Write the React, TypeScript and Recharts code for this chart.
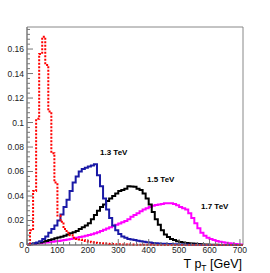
import React from 'react';
import { ComposedChart, Line, XAxis, YAxis, ReferenceArea } from 'recharts';

// bin lower edges in GeV, 10 GeV bins from 0 to 700 (histogram ends at 710)
const binEdges = Array.from({ length: 71 }, (_, i) => i * 10);
const xMax = 710;
const yMax = 0.178;

// low mass sample (red dotted)
const redHist = [
  0, 0.012, 0.044, 0.103, 0.156, 0.17, 0.147, 0.109, 0.075, 0.051,
  0.024, 0.019, 0.013, 0.01, 0.008, 0.006, 0.005, 0.0045, 0.004, 0.0033,
  0.0027, 0.0022, 0.0019, 0.0016, 0.0014, 0.0012, 0.001, 0.0009, 0.0008, 0.0007,
  0.0006, 0.0005, 0.0005, 0.0004, 0.0004, 0.0003, 0.0003, 0.0003, 0.0002, 0.0002,
  0.0002, 0.0001, 0.0001, 0.0001, 0.0001, 0.0001, 0, 0, 0, 0,
  0, 0, 0, 0, 0, 0, 0, 0, 0, 0,
  0, 0, 0, 0, 0, 0, 0, 0, 0, 0,
  0,
];

// 1.3 TeV
const blueHist = [
  0.0005, 0.001, 0.0015, 0.002, 0.003, 0.005, 0.007, 0.01, 0.013, 0.016,
  0.02, 0.025, 0.031, 0.037, 0.044, 0.051, 0.056, 0.06, 0.062, 0.063,
  0.064, 0.065, 0.066, 0.057, 0.048, 0.038, 0.029, 0.022, 0.016, 0.012,
  0.009, 0.007, 0.006, 0.005, 0.0045, 0.004, 0.0035, 0.003, 0.0027, 0.0023,
  0.002, 0.0017, 0.0015, 0.0013, 0.0011, 0.001, 0.0009, 0.0008, 0.0007, 0.0006,
  0.0005, 0.0004, 0.0004, 0.0003, 0.0003, 0.0002, 0.0002, 0.0001, 0.0001, 0.0001,
  0.0001, 0.0001, 0, 0, 0, 0, 0, 0, 0, 0,
  0,
];

// 1.5 TeV
const blackHist = [
  0.0003, 0.0008, 0.0012, 0.0016, 0.002, 0.0027, 0.0033, 0.004, 0.0047, 0.0055,
  0.0062, 0.0068, 0.0076, 0.0085, 0.0095, 0.0105, 0.0115, 0.013, 0.0145, 0.016,
  0.0177, 0.021, 0.0245, 0.028, 0.031, 0.033, 0.036, 0.038, 0.04, 0.042,
  0.044, 0.045, 0.046, 0.048, 0.0478, 0.0475, 0.046, 0.045, 0.042, 0.038,
  0.033, 0.027, 0.021, 0.0165, 0.012, 0.0085, 0.0065, 0.005, 0.004, 0.003,
  0.0025, 0.002, 0.0017, 0.0015, 0.0012, 0.001, 0.0008, 0.0006, 0.0005, 0.0004,
  0.0003, 0.0002, 0.0002, 0.0001, 0.0001, 0.0001, 0, 0, 0, 0,
  0,
];

// 1.7 TeV
const magentaHist = [
  0.0003, 0.0006, 0.0009, 0.0012, 0.0015, 0.0018, 0.002, 0.0023, 0.0026, 0.003,
  0.0033, 0.0037, 0.0041, 0.0045, 0.005, 0.0055, 0.006, 0.0065, 0.007, 0.0076,
  0.0082, 0.0088, 0.0095, 0.0105, 0.0115, 0.0125, 0.0135, 0.0145, 0.0155, 0.0165,
  0.0175, 0.0185, 0.0195, 0.021, 0.023, 0.0245, 0.026, 0.0275, 0.029, 0.03,
  0.031, 0.032, 0.0327, 0.033, 0.0335, 0.034, 0.034, 0.034, 0.0335, 0.0325,
  0.031, 0.03, 0.029, 0.026, 0.022, 0.0177, 0.0136, 0.01, 0.0075, 0.006,
  0.0048, 0.004, 0.0033, 0.0027, 0.0022, 0.0018, 0.0015, 0.0012, 0.0009, 0.0006,
  0.0004,
];

const xMajorTicks = [0, 100, 200, 300, 400, 500, 600, 700];
const yMajorTicks = [0, 0.02, 0.04, 0.06, 0.08, 0.1, 0.12, 0.14, 0.16];

const xTicks = Array.from({ length: 36 }, (_, i) => i * 20);
const yTicks = Array.from({ length: 45 }, (_, i) => Math.round(i * 4) / 1000);

const data = binEdges.map((x, i) => ({
  x,
  red: redHist[i],
  blue: blueHist[i],
  black: blackHist[i],
  magenta: magentaHist[i],
}));
// close the last bin at the right edge of the frame
data.push({ x: xMax, red: redHist[70], blue: blueHist[70], black: blackHist[70], magenta: magentaHist[70] });

const axisColor = '#777';
const labelColor = '#222';

const XTick = (props: any) => {
  const { x, y, payload } = props;
  const v = payload.value;
  const major = xMajorTicks.includes(v);
  return (
    <g>
      <line x1={x} y1={y} x2={x} y2={y - (major ? 6 : 3)} stroke={axisColor} />
      {major && (
        <text x={x} y={y + 2} dy="0.71em" textAnchor="middle" fontSize={8.5} fill={labelColor}>
          {v}
        </text>
      )}
    </g>
  );
};

const YTick = (props: any) => {
  const { x, y, payload } = props;
  const v = payload.value;
  const major = yMajorTicks.some((m) => Math.abs(m - v) < 1e-6);
  return (
    <g>
      <line x1={x} y1={y} x2={x + (major ? 6 : 3)} y2={y} stroke={axisColor} />
      {major && (
        <text x={x - 3} y={y} dy="0.35em" textAnchor="end" fontSize={8.5} fill={labelColor}>
          {String(v)}
        </text>
      )}
    </g>
  );
};

export default function App() {
  return (
    <div
      style={{
        position: 'fixed',
        left: 0,
        top: 0,
        width: 270,
        height: 273,
        background: '#fff',
        fontFamily: '"Liberation Sans", Arial, sans-serif',
      }}
    >
      <ComposedChart width={270} height={273} data={data} margin={{ top: 27, right: 27, bottom: 0, left: 0 }}>
        <XAxis
          dataKey="x"
          type="number"
          domain={[0, xMax]}
          ticks={xTicks}
          interval={0}
          tickSize={0}
          tickMargin={0}
          height={28}
          axisLine={{ stroke: axisColor }}
          tickLine={false}
          tick={<XTick />}
        />
        <YAxis
          type="number"
          domain={[0, yMax]}
          ticks={yTicks}
          interval={0}
          tickSize={0}
          tickMargin={0}
          width={27}
          axisLine={{ stroke: axisColor }}
          tickLine={false}
          tick={<YTick />}
        />
        <ReferenceArea x1={0} x2={xMax} y1={0} y2={yMax} fill="none" stroke="#888" strokeWidth={1} />
        <Line dataKey="magenta" type="stepAfter" stroke="#ff00ff" strokeWidth={2} dot={false} activeDot={false} isAnimationActive={false} />
        <Line dataKey="black" type="stepAfter" stroke="#000000" strokeWidth={2} dot={false} activeDot={false} isAnimationActive={false} />
        <Line dataKey="blue" type="stepAfter" stroke="#1a1aa6" strokeWidth={2} dot={false} activeDot={false} isAnimationActive={false} />
        <Line dataKey="red" type="stepAfter" stroke="#ff0000" strokeWidth={2} strokeDasharray="2 1.5" dot={false} activeDot={false} isAnimationActive={false} />
      </ComposedChart>
      <svg width={270} height={273} style={{ position: 'absolute', left: 0, top: 0, pointerEvents: 'none' }}>
        <text x={100} y={155} fontSize={8} fontWeight="bold" fill="#000">1.3 TeV</text>
        <text x={147} y={182} fontSize={8} fontWeight="bold" fill="#000">1.5 TeV</text>
        <text x={201} y={209} fontSize={8} fontWeight="bold" fill="#000">1.7 TeV</text>
        <text x={242} y={268} textAnchor="end" fontSize={12.5} fill="#000">
          T p<tspan fontSize={8.5} dy={3}>T</tspan>
          <tspan dy={-3}> [GeV]</tspan>
        </text>
      </svg>
    </div>
  );
}
